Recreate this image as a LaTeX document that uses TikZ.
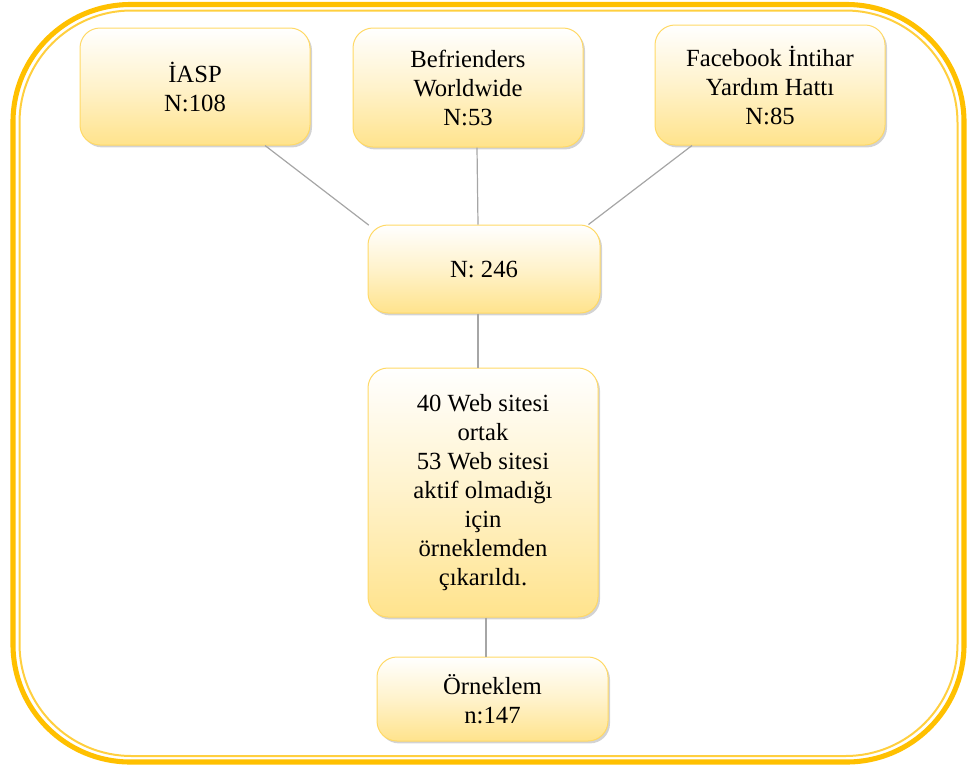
\documentclass[tikz,border=0pt]{standalone}
\usepackage{fontspec}
\setmainfont{Liberation Serif}
\usetikzlibrary{shadows,positioning,calc}

\definecolor{frameorange}{HTML}{FFC000}
\definecolor{framelight}{HTML}{FFCF3F}
\definecolor{boxedge}{HTML}{FFD966}
\definecolor{boxbottom}{HTML}{FFE38C}

\begin{document}
\begin{tikzpicture}[
    x=0.75pt, y=-0.75pt,
    % Node styles
    stage/.style={draw=boxedge, line width=0.75pt, rounded corners=15pt,
        top color=white, bottom color=boxbottom, middle color=boxbottom!45,
        drop shadow={opacity=0.35, shadow xshift=1.5pt, shadow yshift=-1.8pt},
        align=center, inner sep=2pt, text=black,
        font=\fontsize{18.5}{21.75}\selectfont},
    link/.style={draw=gray!70, line width=0.9pt},
]

\useasboundingbox (0,0) rectangle (968,769);

% ============================================================
% Frame
% ============================================================
\draw[frameorange, line width=3.8pt, rounded corners=88pt] (13,4.5) rectangle (964,762);
\draw[framelight, line width=1.5pt, rounded corners=84pt] (19.5,10.5) rectangle (957.5,756);

% ============================================================
% Sources
% ============================================================
\node[stage, minimum width=172.5pt, minimum height=87.75pt] (iasp) at (195,86.5) {İASP\\N:108};
\node[stage, minimum width=172.5pt, minimum height=89.25pt] (befr) at (468,87.5) {Befrienders\\Worldwide\\N:53};
\node[stage, minimum width=172.5pt, minimum height=90pt] (fb) at (770,85) {Facebook İntihar\\Yardım Hattı\\N:85};

% ============================================================
% Total
% ============================================================
\node[stage, minimum width=174pt, minimum height=66pt] (total) at (484,269) {N: 246};

% ============================================================
% Excluded
% ============================================================
\node[stage, minimum width=172.5pt, minimum height=186.75pt] (web) at (483,492.5)
    {40 Web sitesi\\ortak\\53 Web sitesi\\aktif olmadığı\\için\\örneklemden\\çıkarıldı.};

% ============================================================
% Sample
% ============================================================
\node[stage, minimum width=173.25pt, minimum height=63pt] (sample) at (492.5,699) {Örneklem\\n:147};

% ============================================================
% Links
% ============================================================
\draw[link] ([xshift=52.5pt]iasp.south) -- ([xshift=1pt, yshift=-0.5pt]total.north west);
\draw[link] ([xshift=6.75pt]befr.south) -- ([xshift=-4.5pt]total.north);
\draw[link] ([xshift=-58.5pt]fb.south) -- ([xshift=-9pt]total.north east);
\draw[link] ([xshift=-4.5pt]total.south) -- ([xshift=-3.75pt]web.north);
\draw[link] ([xshift=2.25pt]web.south) -- ([xshift=-4.875pt]sample.north);

\end{tikzpicture}
\end{document}
